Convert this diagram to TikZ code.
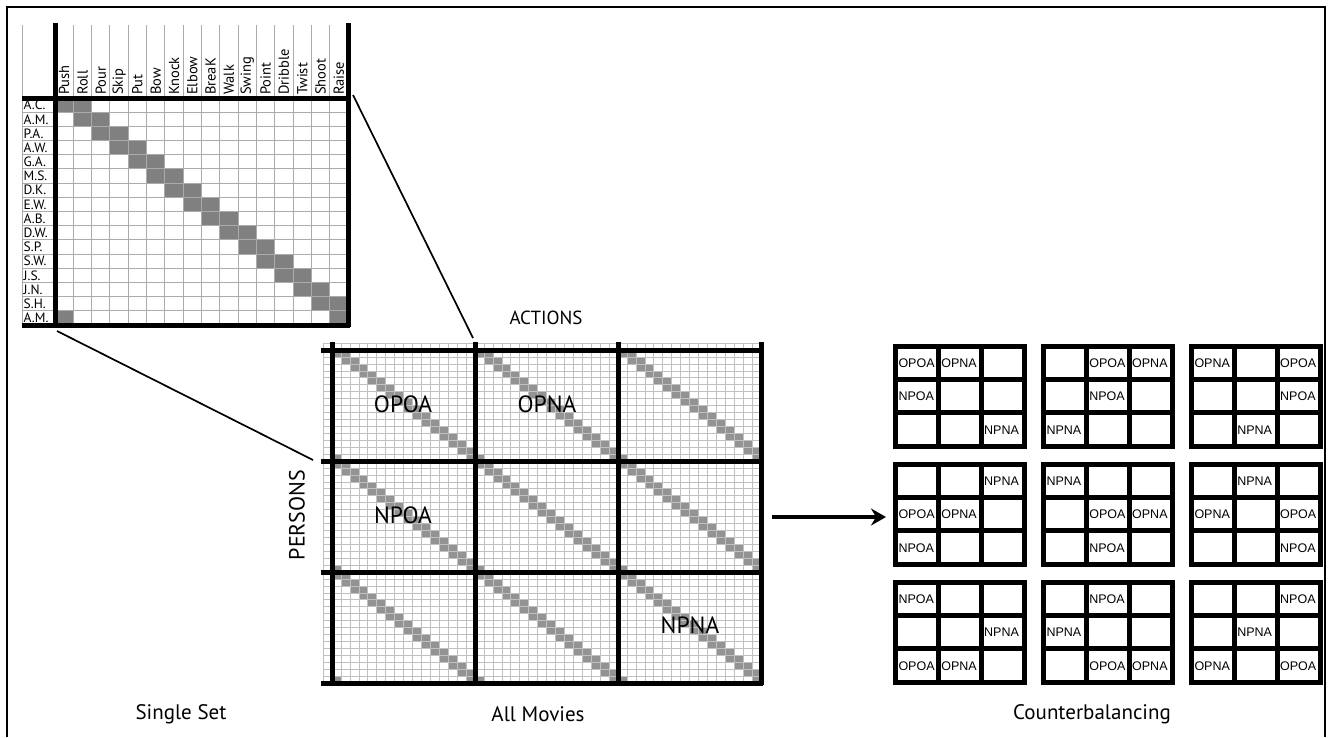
\documentclass[tikz,border=0pt]{standalone}
\usepackage{fontspec}
\setmainfont{PT Sans}
\newfontfamily\arialf{Liberation Sans}
\usetikzlibrary{arrows.meta}
\definecolor{cellgray}{HTML}{808080}
\definecolor{thingrid}{HTML}{ABABAB}
\definecolor{finegrid}{HTML}{C0C0C0}
\tikzset{
  frameline/.style={line width=2pt},
  thickline/.style={line width=5pt},
  thinline/.style={draw=thingrid,line width=1pt},
  fineline/.style={draw=finegrid,line width=0.6pt},
  zoomline/.style={line width=1.7pt},
  cbgrid/.style={line width=5pt,line join=miter},
  collab/.style={rotate=90,anchor=west,inner sep=1pt,font=\fontsize{14.5}{14.5}\selectfont},
  rowlab/.style={anchor=west,inner sep=0pt,font=\fontsize{13.5}{13.5}\selectfont},
  biglab/.style={font=\fontsize{23.5}{23.5}\selectfont,inner sep=0pt},
  axislab/.style={font=\fontsize{19}{19}\selectfont,inner sep=0pt},
  caption/.style={font=\fontsize{21}{21}\selectfont,inner sep=0pt},
  cblab/.style={anchor=west,inner sep=0pt,font=\arialf\fontsize{12.5}{12.5}\selectfont},
}
\begin{document}
\begin{tikzpicture}[x=1pt,y=-1pt]
\useasboundingbox (0,0) rectangle (1328,737);
% frame
\draw[frameline] (7,737) -- (7,7) -- (1325,7) -- (1325,737);

% ---------- small matrix (Single Set) ----------
\def\cw{18.3125}
\def\rh{14.1875}
\foreach \i in {0,...,15} {
  \pgfmathtruncatemacro\j{mod(\i+1,16)}
  \fill[cellgray] ({55+\i*\cw},{98+\i*\rh}) rectangle +(\cw,\rh);
  \fill[cellgray] ({55+\j*\cw},{98+\i*\rh}) rectangle +(\cw,\rh);
}
\foreach \k in {1,...,15} {
  \draw[thinline] ({55+\k*\cw},25) -- ({55+\k*\cw},325);
  \draw[thinline] (22,{98+\k*\rh}) -- (348,{98+\k*\rh});
}
\draw[thinline] (22,25) -- (22,325);
\draw[thickline] (55,23) -- (55,327);
\draw[thickline] (348,23) -- (348,327);
\draw[thickline] (22,98) -- (350,98);
\draw[thickline] (22,325) -- (350,325);
\foreach \w [count=\k from 0] in {Push,Roll,Pour,Skip,Put,Bow,Knock,Elbow,BreaK,Walk,Swing,Point,Dribble,Twist,Shoot,Raise}
  \node[collab] (h\k) at ({55+(\k+0.5)*\cw},96) {\w};
\foreach \w [count=\k from 0] in {A.C.,A.M.,P.A.,A.W.,G.A.,M.S.,D.K.,E.W.,A.B.,D.W.,S.P.,S.W.,J.S.,J.N.,S.H.,A.M.}
  \node[rowlab] (r\k) at (23.5,{98+(\k+0.5)*\rh}) {\w};
\coordinate (smTR) at (353,95);
\coordinate (smBL) at (57,331);

% ---------- middle matrix (All Movies) ----------
\def\fw{8.9375}
\def\fh{6.9375}
\foreach \bi in {0,1,2} {
  \foreach \bj in {0,1,2} {
    \foreach \i in {0,...,15} {
      \pgfmathtruncatemacro\j{mod(\i+1,16)}
      \fill[cellgray!85] ({332+\bj*143+\i*\fw},{350+\bi*111+\i*\fh}) rectangle +(\fw,\fh);
      \fill[cellgray!85] ({332+\bj*143+\j*\fw},{350+\bi*111+\i*\fh}) rectangle +(\fw,\fh);
    }
  }
}
\foreach \k in {-1,...,47} {
  \draw[fineline] ({332+\k*\fw},343) -- ({332+\k*\fw},683);
  \draw[fineline] (323,{350+\k*\fh}) -- (761,{350+\k*\fh});
}
\foreach \x in {332,475,618,761}
  \draw[thickline] (\x,342) -- (\x,685);
\foreach \y in {350,461,572,683}
  \draw[thickline] (321,\y) -- (763,\y);
\node[biglab] (opoa) at (403,404) {OPOA};
\node[biglab] (opna) at (547,404) {OPNA};
\node[biglab] (npoa) at (403,515) {NPOA};
\node[biglab] (npna) at (690,625) {NPNA};
\node[axislab] (actions) at (546,318) {ACTIONS};
\node[axislab,rotate=90,font=\fontsize{22}{22}\selectfont] (persons) at (297,515) {PERSONS};
\coordinate (mTR) at (473,338);
\coordinate (mBL) at (313,460);
\draw[zoomline] (smTR) -- (mTR);
\draw[zoomline] (smBL) -- (mBL);

% ---------- arrow ----------
\coordinate (arrS) at (772,517);
\coordinate (arrE) at (886,517);
\draw[line width=3.2pt,-{Stealth[length=15pt,width=17pt,inset=5pt]}] (arrS) -- (arrE);

% ---------- counterbalancing grids ----------
\def\gw{128.5}
\def\gh{100}
\foreach \R in {0,1,2} {
  \foreach \C in {0,1,2} {
    \pgfmathsetmacro\xo{895.5+\C*148}
    \pgfmathsetmacro\yo{346+\R*118}
    \draw[cbgrid] (\xo,\yo) rectangle +(\gw,\gh);
    \draw[cbgrid] ({\xo+\gw/3},\yo) -- +(0,\gh);
    \draw[cbgrid] ({\xo+2*\gw/3},\yo) -- +(0,\gh);
    \draw[cbgrid] (\xo,{\yo+\gh/3}) -- +(\gw,0);
    \draw[cbgrid] (\xo,{\yo+2*\gh/3}) -- +(\gw,0);
  }
}
\foreach \R/\C/\r/\c/\t [count=\n] in {
  0/0/0/0/OPOA, 0/0/0/1/OPNA, 0/0/1/0/NPOA, 0/0/2/2/NPNA,
  0/1/0/1/OPOA, 0/1/0/2/OPNA, 0/1/1/1/NPOA, 0/1/2/0/NPNA,
  0/2/0/0/OPNA, 0/2/0/2/OPOA, 0/2/1/2/NPOA, 0/2/2/1/NPNA,
  1/0/0/2/NPNA, 1/0/1/0/OPOA, 1/0/1/1/OPNA, 1/0/2/0/NPOA,
  1/1/0/0/NPNA, 1/1/1/1/OPOA, 1/1/1/2/OPNA, 1/1/2/1/NPOA,
  1/2/0/1/NPNA, 1/2/1/0/OPNA, 1/2/1/2/OPOA, 1/2/2/2/NPOA,
  2/0/0/0/NPOA, 2/0/1/2/NPNA, 2/0/2/0/OPOA, 2/0/2/1/OPNA,
  2/1/0/1/NPOA, 2/1/1/0/NPNA, 2/1/2/1/OPOA, 2/1/2/2/OPNA,
  2/2/0/2/NPOA, 2/2/1/1/NPNA, 2/2/2/0/OPNA, 2/2/2/2/OPOA} {
  \node[cblab] (cb\n) at ({895.5+\C*148+\c*\gw/3+2.8},{346+\R*118+(\r+0.5)*\gh/3+0.5}) {\t};
}

% ---------- captions ----------
\node[caption] (cap1) at (181,714) {Single Set};
\node[caption] (cap2) at (538,714) {All Movies};
\node[caption] (cap3) at (1092,714) {Counterbalancing};
\end{tikzpicture}
\end{document}
